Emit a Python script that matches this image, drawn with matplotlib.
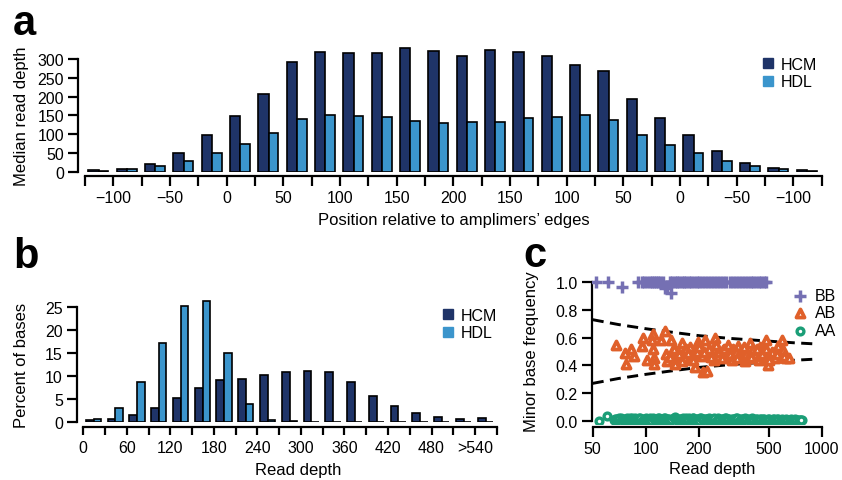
import matplotlib
matplotlib.use("Agg")
import matplotlib.pyplot as plt
from matplotlib.lines import Line2D
from matplotlib.ticker import NullLocator

plt.rcParams['font.family'] = ['Liberation Sans', 'DejaVu Sans']

HCM_COLOR = '#1f3468'
HDL_COLOR = '#3b95cc'
BB_COLOR = '#7570b3'
AB_COLOR = '#e0602a'
AA_COLOR = '#1b9e77'

# --- panel a: median depth vs. position relative to amplimer edges
edge_ticklabels = ['\u2212100', '\u221250', '0', '50', '100', '150', '200',
                   '150', '100', '50', '0', '\u221250', '\u2212100']
hcm_edge = [3.5, 8, 21, 50, 98, 147, 207, 292, 318, 316, 316, 329, 322,
            307, 325, 318, 307, 284, 269, 193, 142, 99, 54, 23, 10, 4]
hdl_edge = [2, 6, 14, 29, 51, 75, 102, 141, 150, 148, 145, 136, 131,
            133, 133, 142, 146, 150, 139, 98, 71, 49, 28, 14, 6, 3]

# --- panel b: distribution of read depth (bins of 30)
depth_ticklabels = ['0', '60', '120', '180', '240', '300', '360', '420', '480', '>540']
hcm_depth = [0.5, 0.7, 1.5, 3.1, 5.3, 7.5, 9.2, 9.3, 10.2, 10.9, 11.1, 10.8,
             8.7, 5.8, 3.6, 2.0, 1.1, 0.7, 1.0]
hdl_depth = [0.7, 3.0, 8.7, 17.2, 25.2, 26.3, 15.0, 3.9, 0.6, 0.2, 0.1, 0.1,
             0.1, 0.1, 0.1, 0.1, 0.1, 0.1, 0.1]

# --- panel c: minor base frequency vs read depth
bb_x = [52, 61, 73, 91, 95, 98, 102, 106, 109, 112, 115, 118, 121, 125, 129,
        133, 137, 139, 142, 146, 150, 155, 160, 165, 170, 176, 182, 188, 195,
        202, 210, 218, 226, 235, 245, 255, 265, 276, 288, 300, 312, 325, 338,
        352, 366, 380, 395, 410, 425, 440, 455, 470, 485]
bb_y = [1.0, 1.0, 0.965, 1.0, 1.0, 1.0, 1.0, 1.0, 1.0, 1.0, 1.0, 1.0, 1.0,
        1.0, 0.96, 0.975, 1.0, 0.92, 1.0, 1.0, 1.0, 1.0, 1.0, 1.0, 1.0, 1.0,
        1.0, 1.0, 1.0, 1.0, 1.0, 1.0, 1.0, 1.0, 1.0, 1.0, 1.0, 1.0, 1.0, 1.0,
        1.0, 1.0, 1.0, 1.0, 1.0, 1.0, 1.0, 1.0, 1.0, 1.0, 1.0, 1.0, 1.0]

ab_x = [68, 76, 77, 83, 86, 95, 97, 102, 110, 108, 110, 112, 112, 123, 129,
        131, 132, 140, 143, 147, 150, 160, 163, 167, 178, 182, 190, 198, 203,
        212, 222, 218, 248, 242, 232, 258, 275, 288, 315, 336, 350, 365, 390,
        400, 416, 445, 465, 484, 496, 505, 577, 594, 625, 565,
        155, 170, 185, 195, 210, 230, 245, 260, 270, 300, 310, 325, 340, 355,
        370, 380, 410, 425, 440, 455, 470, 520, 540, 560, 600, 615, 650, 138,
        145, 160, 175, 200, 215, 235, 250, 280, 295, 330, 360, 395, 430, 460,
        480, 500]
ab_y = [0.55, 0.49, 0.41, 0.52, 0.47, 0.54, 0.60, 0.44, 0.63, 0.58, 0.52,
        0.45, 0.41, 0.58, 0.65, 0.48, 0.43, 0.58, 0.51, 0.41, 0.47, 0.56,
        0.49, 0.45, 0.53, 0.47, 0.39, 0.57, 0.49, 0.35, 0.36, 0.58, 0.60,
        0.52, 0.47, 0.47, 0.51, 0.46, 0.52, 0.54, 0.46, 0.43, 0.56, 0.49,
        0.46, 0.53, 0.51, 0.58, 0.40, 0.47, 0.51, 0.58, 0.45, 0.54,
        0.48, 0.52, 0.44, 0.50, 0.47, 0.52, 0.44, 0.50, 0.45, 0.48, 0.44,
        0.50, 0.47, 0.51, 0.48, 0.45, 0.52, 0.48, 0.44, 0.50, 0.46, 0.50,
        0.45, 0.48, 0.51, 0.47, 0.45, 0.46, 0.52, 0.43, 0.49, 0.53, 0.50,
        0.46, 0.55, 0.52, 0.55, 0.45, 0.53, 0.46, 0.52, 0.48, 0.52, 0.44]

aa_x = [54, 60, 66, 68, 70, 72, 74, 76, 78, 80, 82, 84, 86, 88, 90, 92, 95,
        98, 100, 103, 106, 109, 112, 115, 118, 121, 124, 127, 130, 134, 138,
        142, 146, 150, 154, 158, 162, 167, 172, 177, 182, 187, 192, 198, 204,
        210, 216, 222, 229, 236, 243, 250, 258, 266, 274, 282, 290, 299, 308,
        317, 327, 337, 347, 358, 369, 380, 392, 404, 416, 429, 442, 455, 469,
        483, 498, 513, 528, 544, 560, 577, 594, 612, 630, 649, 668, 688, 708,
        729, 750, 770,
        67, 69, 71, 73, 75, 77, 79, 81, 83, 85, 87, 89, 91, 93, 97, 99, 102,
        104, 107, 110, 113, 116, 119, 122, 125, 129, 132, 136, 140, 144, 148,
        152, 156, 160, 165, 170, 175, 180, 185, 190, 195, 201, 207, 213, 219,
        226, 232, 239, 246, 254, 262, 270, 278, 286, 295, 304, 313, 322, 332,
        342, 352, 363, 374, 386, 398, 410, 422, 435, 448, 462, 476, 490, 505,
        520, 536, 552, 568, 585, 603, 621, 640, 659, 678, 698, 718, 740, 760]
aa_y = [0.0, 0.035,
        0.004, 0.016, 0.009, 0.021, 0.002, 0.013, 0.018, 0.006, 0.011, 0.022,
        0.003, 0.015, 0.008, 0.02, 0.012, 0.001, 0.017, 0.007, 0.023, 0.01,
        0.005, 0.014, 0.019, 0.002, 0.012, 0.021, 0.008, 0.016, 0.004, 0.011,
        0.024, 0.006, 0.015, 0.001, 0.018, 0.009, 0.013, 0.022, 0.003, 0.017,
        0.007, 0.012, 0.02, 0.005, 0.014, 0.01, 0.019, 0.002, 0.016, 0.008,
        0.021, 0.004, 0.013, 0.018, 0.006, 0.011, 0.015, 0.001, 0.02, 0.009,
        0.014, 0.005, 0.017, 0.012, 0.003, 0.019, 0.008, 0.013, 0.002, 0.016,
        0.01, 0.006, 0.015, 0.003, 0.012, 0.008, 0.014, 0.004, 0.011, 0.006,
        0.013, 0.002, 0.009, 0.005, 0.011, 0.003, 0.007, 0.002,
        0.012, 0.006, 0.019, 0.01, 0.001, 0.015, 0.008, 0.02, 0.004, 0.013,
        0.017, 0.007, 0.011, 0.022, 0.003, 0.016, 0.009, 0.014, 0.001, 0.02,
        0.006, 0.012, 0.018, 0.005, 0.01, 0.021, 0.003, 0.015, 0.008, 0.019,
        0.011, 0.002, 0.016, 0.007, 0.013, 0.02, 0.004, 0.01, 0.017, 0.006,
        0.014, 0.001, 0.019, 0.009, 0.012, 0.004, 0.016, 0.008, 0.021, 0.003,
        0.011, 0.015, 0.006, 0.018, 0.01, 0.002, 0.014, 0.007, 0.017, 0.005,
        0.012, 0.009, 0.016, 0.003, 0.011, 0.006, 0.014, 0.001, 0.01, 0.013,
        0.005, 0.008, 0.012, 0.003, 0.009, 0.006, 0.011,
        0.002, 0.008, 0.004, 0.007, 0.001, 0.005, 0.003, 0.006, 0.002, 0.004]

# heterozygote cut-offs
cut_x = [50, 70, 100, 150, 200, 300, 500, 700, 920]
cut_upper = [0.73, 0.695, 0.665, 0.635, 0.615, 0.595, 0.575, 0.563, 0.555]
cut_lower = [0.27, 0.305, 0.335, 0.365, 0.385, 0.405, 0.425, 0.437, 0.445]

TICK_FS = 11.5
LABEL_FS = 12


def style_axes(ax, offset):
    for side in ('top', 'right'):
        ax.spines[side].set_visible(False)
    for side in ('left', 'bottom'):
        ax.spines[side].set_linewidth(1.6)
    ax.spines['bottom'].set_position(('outward', offset))
    ax.tick_params(direction='out', length=7, width=1.6, labelsize=TICK_FS, pad=3)


def paired_bars(ax, hcm, hdl):
    xs = list(range(len(hcm)))
    ax.bar([x - 0.38 for x in xs], hcm, width=0.36, align='edge',
           color=HCM_COLOR, edgecolor='black', linewidth=1.2)
    ax.bar([x - 0.02 for x in xs], hdl, width=0.34, align='edge',
           color=HDL_COLOR, edgecolor='black', linewidth=1.2)


def square_legend(ax, anchor):
    handles = [Line2D([], [], marker='s', ls='none', color=HCM_COLOR, markersize=7, label='HCM'),
               Line2D([], [], marker='s', ls='none', color=HDL_COLOR, markersize=7, label='HDL')]
    ax.legend(handles=handles, loc='upper left', bbox_to_anchor=anchor,
              bbox_transform=ax.figure.transFigure, frameon=False, fontsize=11.5,
              borderpad=0, handlelength=0.8, handletextpad=0.4, labelspacing=0.15)


fig = plt.figure(figsize=(8.42, 4.81), dpi=100)
W, H = 842.0, 481.0

# ---------------- a
ax_a = fig.add_axes([78 / W, 1 - 172.7 / H, 746.5 / W, 125.8 / H])
paired_bars(ax_a, hcm_edge, hdl_edge)
n_a = len(hcm_edge)
ax_a.set_xlim(-0.75, 25.6)
ax_a.set_ylim(0, 335)
style_axes(ax_a, 3.3)
ax_a.spines['left'].set_bounds(0, 300)
ax_a.spines['bottom'].set_bounds(-0.5, n_a - 0.5)
ax_a.set_yticks([0, 50, 100, 150, 200, 250, 300])
a_ticks = [i - 0.5 for i in range(n_a + 1)]
a_labels = [''] * len(a_ticks)
a_labels[1::2] = edge_ticklabels
ax_a.set_xticks(a_ticks)
ax_a.set_xticklabels(a_labels)
ax_a.set_ylabel('Median read depth', fontsize=LABEL_FS)
ax_a.yaxis.set_label_coords(-0.0656, 0.451)
ax_a.set_xlabel('Position relative to amplimers\u2019 edges', fontsize=LABEL_FS)
ax_a.xaxis.set_label_coords(0.5037, -0.32)
square_legend(ax_a, (754 / W, 1 - 50 / H))

# ---------------- b
ax_b = fig.add_axes([76.7 / W, 1 - 423.3 / H, 423.4 / W, 127 / H])
paired_bars(ax_b, hcm_depth, hdl_depth)
n_b = len(hcm_depth)
ax_b.set_xlim(-0.8, 18.65)
ax_b.set_ylim(0, 27.5)
style_axes(ax_b, 3.6)
ax_b.tick_params(axis='x', length=6, pad=3)
ax_b.spines['left'].set_bounds(0, 25)
ax_b.spines['bottom'].set_bounds(-0.5, n_b - 0.5)
ax_b.set_yticks([0, 5, 10, 15, 20, 25])
b_ticks = [i - 0.5 for i in range(n_b + 1)]
b_labels = [''] * len(b_ticks)
b_labels[0:19:2] = depth_ticklabels
ax_b.set_xticks(b_ticks)
ax_b.set_xticklabels(b_labels)
ax_b.set_ylabel('Percent of bases', fontsize=LABEL_FS)
ax_b.yaxis.set_label_coords(-0.1127, 0.4536)
ax_b.set_xlabel('Read depth', fontsize=LABEL_FS)
ax_b.xaxis.set_label_coords(0.524, -0.31)
square_legend(ax_b, (434 / W, 1 - 301 / H))

# ---------------- c
ax_c = fig.add_axes([591.7 / W, 1 - 424.5 / H, 229.9 / W, 148.1 / H])
ax_c.set_xscale('log')
ax_c.plot(cut_x, cut_upper, color='black', lw=2.1, ls=(0, (3.8, 2.2)))
ax_c.plot(cut_x, cut_lower, color='black', lw=2.1, ls=(0, (3.8, 2.2)))
ax_c.scatter(aa_x, aa_y, s=24, marker='o', facecolors='white',
             edgecolors=AA_COLOR, linewidths=2.4, label='AA', zorder=3)
ax_c.scatter(ab_x, ab_y, s=34, marker='^', facecolors='white',
             edgecolors=AB_COLOR, linewidths=2.7, label='AB', zorder=3)
ax_c.scatter(bb_x, bb_y, s=80, marker='+', color=BB_COLOR,
             linewidths=2.5, label='BB', zorder=3)
ax_c.set_xlim(49.35, 1000)
ax_c.set_ylim(-0.02, 1.05)
style_axes(ax_c, 2.7)
ax_c.spines['left'].set_bounds(0, 1)
ax_c.spines['bottom'].set_bounds(50, 1000)
ax_c.set_xticks([50, 100, 200, 500, 1000])
ax_c.set_xticklabels(['50', '100', '200', '500', '1000'])
ax_c.xaxis.set_minor_locator(NullLocator())
ax_c.set_yticks([0, 0.2, 0.4, 0.6, 0.8, 1.0])
ax_c.set_yticklabels(['0.0', '0.2', '0.4', '0.6', '0.8', '1.0'])
ax_c.set_ylabel('Minor base frequency', fontsize=LABEL_FS)
ax_c.yaxis.set_label_coords(-0.229, 0.4916)
ax_c.set_xlabel('Read depth', fontsize=LABEL_FS)
ax_c.xaxis.set_label_coords(0.522, -0.253)
h, l = ax_c.get_legend_handles_labels()
order = [l.index('BB'), l.index('AB'), l.index('AA')]
ax_c.legend([h[i] for i in order], [l[i] for i in order], loc='upper left',
            bbox_to_anchor=(785 / W, 1 - 281 / H), bbox_transform=fig.transFigure,
            frameon=False, fontsize=11.5, borderpad=0, handlelength=0.9,
            handletextpad=0.45, labelspacing=0.15, scatterpoints=1)

# panel letters
for letter, (px, py) in zip('abc', [(13, 35), (13, 268), (523, 267)]):
    fig.text(px / W, 1 - py / H, letter, fontsize=30, fontweight='bold',
             va='baseline', ha='left')

fig.savefig('out.png', dpi=100)
